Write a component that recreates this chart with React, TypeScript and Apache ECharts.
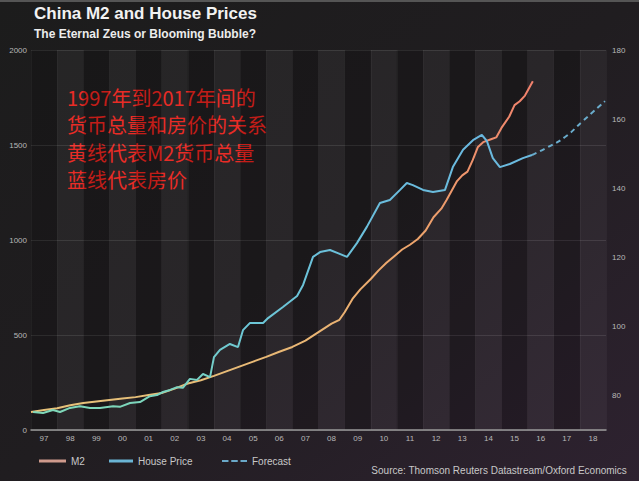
import React, { useEffect, useRef } from "react";
import * as echarts from "echarts";

const yearLabels = ["97","98","99","00","01","02","03","04","05","06","07","08","09","10","11","12","13","14","15","16","17","18"];
const leftTicks = [0, 500, 1000, 1500, 2000];
const rightTicks = [80, 100, 120, 140, 160, 180];

const m2Years = [1997.0,1997.5,1998.0,1998.5,1999.0,1999.5,2000.0,2000.5,2001.0,2001.5,2002.0,2002.5,2003.0,2003.5,2004.0,2004.5,2005.0,2005.5,2006.0,2006.5,2007.0,2007.5,2008.0,2008.5,2008.8,2009.0,2009.3,2009.6,2010.0,2010.3,2010.6,2010.9,2011.2,2011.5,2011.8,2012.1,2012.4,2012.7,2012.9,2013.1,2013.3,2013.5,2013.7,2013.9,2014.1,2014.3,2014.6,2014.8,2015.0,2015.3,2015.5,2015.7,2015.9,2016.1,2016.2];
const m2Values = [95,105,115,130,142,150,158,166,173,184,195,218,245,262,285,310,335,360,385,412,437,470,515,560,580,620,690,740,795,840,880,915,950,975,1005,1050,1120,1165,1210,1260,1310,1340,1360,1420,1490,1515,1530,1540,1590,1650,1710,1730,1760,1810,1835];

const hpYears = [1997.08,1997.46,1997.84,1998.11,1998.49,1998.87,1999.26,1999.64,2000.14,2000.4,2000.79,2001.17,2001.55,2001.82,2002.05,2002.32,2002.59,2002.81,2003.08,2003.35,2003.58,2003.85,2004.0,2004.23,2004.61,2004.92,2005.11,2005.38,2005.88,2006.07,2006.64,2007.18,2007.41,2007.79,2008.06,2008.44,2008.74,2009.09,2009.47,2009.85,2010.35,2010.73,2011.12,2011.38,2011.61,2012.0,2012.38,2012.84,2013.14,2013.53,2013.91,2014.25,2014.44,2014.67,2014.94,2015.32,2015.82,2016.17];
const hpValues = [75.2,74.9,75.8,75.2,76.4,76.9,76.4,76.4,76.9,76.7,77.8,78.1,79.8,80.1,81.0,81.6,82.4,82.2,84.8,84.5,86.2,85.3,91.1,93.2,94.9,94.0,98.9,101.0,101.0,102.4,105.6,108.8,112.0,120.1,121.5,122.1,121.2,120.1,124.1,128.8,135.7,136.6,139.5,141.5,140.9,139.5,138.9,139.5,146.1,151.1,153.9,155.4,153.7,148.7,146.1,147.0,148.7,149.6];

const fcYears = [2016.17,2016.78,2017.43,2018.08,2018.96];
const fcValues = [149.6,151.9,154.8,159.2,165.2];

const annotation = ["1997年到2017年间的", "货币总量和房价的关系", "黄线代表M2货币总量", "蓝线代表房价"];

const FONT = "'Liberation Sans', Arial, sans-serif";
const DASH_ICON = "path://M0,0h7v2h-7z M10,0h7v2h-7z M20,0h7v2h-7z";

export default function App() {
  const ref = useRef<HTMLDivElement>(null);
  useEffect(() => {
    if (!ref.current) return;
    const chart = echarts.init(ref.current, null, { renderer: "svg" });
    const zip = (xs: number[], ys: number[]) => xs.map((x, i) => [x, ys[i]]);
    const m2Color = { type: "linear", x: 0, y: 1, x2: 0, y2: 0, colorStops: [
      { offset: 0, color: "#e6c27a" }, { offset: 0.5, color: "#eda56c" }, { offset: 1, color: "#f0806c" } ] };
    const hpColor = { type: "linear", x: 0, y: 1, x2: 0, y2: 0, colorStops: [
      { offset: 0, color: "#7fd8b8" }, { offset: 0.3, color: "#6cc6d6" }, { offset: 1, color: "#6ab8e0" } ] };
    const legendText = { color: "#c8c8c8", fontSize: 10, fontFamily: FONT };
    chart.setOption({
      animation: false,
      backgroundColor: { type: "linear", x: 0, y: 0, x2: 1, y2: 1, colorStops: [
        { offset: 0, color: "#1c1c1c" }, { offset: 0.5, color: "#201d20" }, { offset: 1, color: "#2e2230" } ] },
      textStyle: { fontFamily: FONT },
      grid: { left: 31, right: 33, top: 50, bottom: 51, containLabel: false },
      legend: [
        { left: 34, top: 451, itemWidth: 27, itemHeight: 3, itemGap: 6, textStyle: legendText, icon: "rect",
          data: [{ name: "M2", itemStyle: { color: "#cf9a8c" } }] },
        { left: 104, top: 451, itemWidth: 24, itemHeight: 3, textStyle: legendText, icon: "rect",
          data: [{ name: "House Price", itemStyle: { color: "#6ab4d4" } }] },
        { left: 217, top: 451, itemWidth: 25, itemHeight: 2, textStyle: legendText, icon: DASH_ICON,
          data: [{ name: "Forecast", itemStyle: { color: "#6aa8c8" } }] },
      ],
      xAxis: [
        { type: "value", min: 1997, max: 2019, show: false },
        { type: "category", data: yearLabels, position: "bottom", boundaryGap: true,
          axisLine: { show: true, lineStyle: { color: "#9a9a9a", width: 1.5 } },
          axisTick: { show: false },
          axisLabel: { color: "#b8b8b8", fontSize: 8, margin: 4, fontFamily: FONT },
          splitLine: { show: true, lineStyle: { color: "rgba(255,255,255,0.04)", width: 1 } },
          splitArea: { show: true, areaStyle: { color: ["rgba(0,0,0,0.16)", "rgba(255,255,255,0.045)"] } } },
      ],
      yAxis: [
        { type: "value", min: 0, max: 2000, interval: 500, position: "left",
          axisLine: { show: false }, axisTick: { show: false },
          axisLabel: { color: "#b8b8b8", fontSize: 8, margin: 4, fontFamily: FONT,
            formatter: (v: number) => (leftTicks.indexOf(v) >= 0 ? String(v) : "") },
          splitLine: { show: true, lineStyle: { color: "rgba(255,255,255,0.1)", width: 1 } } },
        { type: "value", min: 70, max: 180, interval: 10, position: "right",
          axisLine: { show: false }, axisTick: { show: false },
          axisLabel: { color: "#b8b8b8", fontSize: 8, margin: 6, fontFamily: FONT,
            formatter: (v: number) => (rightTicks.indexOf(v) >= 0 ? String(v) : "") },
          splitLine: { show: false } },
      ],
      series: [
        { name: "M2", type: "line", xAxisIndex: 0, yAxisIndex: 0, data: zip(m2Years, m2Values),
          symbol: "none", lineStyle: { color: m2Color, width: 2 }, itemStyle: { color: "#cf9a8c" }, z: 3 },
        { name: "House Price", type: "line", xAxisIndex: 0, yAxisIndex: 1, data: zip(hpYears, hpValues),
          symbol: "none", lineStyle: { color: hpColor, width: 2 }, itemStyle: { color: "#6ab4d4" }, z: 4 },
        { name: "Forecast", type: "line", xAxisIndex: 0, yAxisIndex: 1, data: zip(fcYears, fcValues),
          symbol: "none", smooth: true, lineStyle: { color: "#6aaccc", width: 2, type: [5, 4] }, itemStyle: { color: "#6aa8c8" }, z: 4 },
      ],
      graphic: [
        { type: "rect", left: 0, top: 0, shape: { width: 639, height: 2 }, style: { fill: "#555" } },
        { type: "text", left: 34, top: 5, style: { text: "China M2 and House Prices", fill: "#f2f2f2", font: `bold 17px ${FONT}` } },
        { type: "text", left: 34, top: 28, style: { text: "The Eternal Zeus or Blooming Bubble?", fill: "#ececec", font: `bold 12px ${FONT}` } },
        ...annotation.map((t, i) => ({ type: "text", left: 67, top: 87 + i * 27.5,
          style: { text: t, fill: "#e8231d", font: `20px 'Noto Sans CJK SC', sans-serif` } })),
        { type: "text", right: 12, top: 465, style: { text: "Source: Thomson Reuters Datastream/Oxford Economics", fill: "#c8c8c8", font: `10px ${FONT}` } },
      ],
    });
    return () => chart.dispose();
  }, []);
  return <div ref={ref} style={{ position: "fixed", left: 0, top: 0, width: 639, height: 481 }} />;
}
